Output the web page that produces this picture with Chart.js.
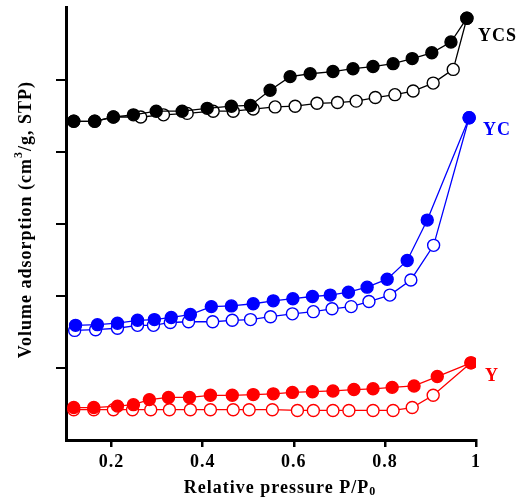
<!DOCTYPE html>
<html>
<head>
<meta charset="utf-8">
<script src="https://cdn.jsdelivr.net/npm/chart.js@4.4.1/dist/chart.umd.min.js"></script>
<style>
  html, body { margin: 0; padding: 0; background: #fff; }
  #wrap { width: 526px; height: 500px; }
</style>
</head>
<body>
<div id="wrap"><canvas id="isoChart" width="526" height="500"></canvas></div>
<script>
// relative pressure P/P0 and adsorbed volume (arbitrary offset units)
const ycsDesP = [0.117, 0.163, 0.204, 0.248, 0.298, 0.355, 0.410, 0.463, 0.505, 0.548, 0.592, 0.636, 0.686, 0.730, 0.774, 0.818, 0.860, 0.903, 0.945, 0.980];
const ycsDesV = [4.42, 4.42, 4.48, 4.51, 4.56, 4.56, 4.60, 4.63, 4.64, 4.85, 5.04, 5.08, 5.11, 5.15, 5.18, 5.22, 5.29, 5.37, 5.52, 5.85];
const ycsAdsP = [0.117, 0.163, 0.204, 0.264, 0.314, 0.366, 0.423, 0.467, 0.511, 0.559, 0.603, 0.651, 0.696, 0.737, 0.779, 0.822, 0.862, 0.906, 0.950, 0.980];
const ycsAdsV = [4.42, 4.42, 4.48, 4.48, 4.51, 4.53, 4.56, 4.56, 4.59, 4.62, 4.63, 4.67, 4.68, 4.70, 4.75, 4.79, 4.84, 4.95, 5.14, 5.85];

const ycDesP = [0.121, 0.169, 0.213, 0.257, 0.294, 0.331, 0.373, 0.419, 0.463, 0.511, 0.555, 0.598, 0.641, 0.680, 0.720, 0.761, 0.805, 0.849, 0.893, 0.985];
const ycDesV = [1.59, 1.60, 1.62, 1.66, 1.67, 1.70, 1.74, 1.85, 1.86, 1.89, 1.93, 1.96, 1.99, 2.01, 2.05, 2.12, 2.23, 2.49, 3.05, 4.47];
const ycAdsP = [0.119, 0.165, 0.213, 0.257, 0.292, 0.329, 0.369, 0.422, 0.465, 0.505, 0.549, 0.597, 0.643, 0.684, 0.726, 0.765, 0.811, 0.857, 0.907, 0.985];
const ycAdsV = [1.52, 1.53, 1.55, 1.59, 1.59, 1.63, 1.64, 1.64, 1.66, 1.67, 1.71, 1.75, 1.78, 1.82, 1.85, 1.92, 2.01, 2.22, 2.70, 4.47];

const yDesP = [0.117, 0.161, 0.213, 0.248, 0.283, 0.325, 0.371, 0.417, 0.465, 0.511, 0.555, 0.597, 0.641, 0.686, 0.732, 0.774, 0.816, 0.864, 0.915, 0.989];
const yDesV = [0.45, 0.45, 0.47, 0.49, 0.56, 0.59, 0.59, 0.62, 0.62, 0.63, 0.64, 0.66, 0.67, 0.68, 0.70, 0.71, 0.73, 0.75, 0.88, 1.07];
const yAdsP = [0.117, 0.161, 0.204, 0.246, 0.286, 0.327, 0.373, 0.417, 0.467, 0.502, 0.553, 0.608, 0.643, 0.686, 0.721, 0.774, 0.818, 0.860, 0.906, 0.989];
const yAdsV = [0.42, 0.42, 0.42, 0.42, 0.42, 0.42, 0.42, 0.42, 0.42, 0.42, 0.42, 0.41, 0.41, 0.41, 0.41, 0.41, 0.41, 0.45, 0.62, 1.07];

const xTickValues = [0.2, 0.4, 0.6, 0.8, 1.0];
const yTickValues = [1, 2, 3, 4, 5];

const sampleNames = ["YCS", "YC", "Y"];
const sampleColors = ["#000000", "#0000ff", "#ff0000"];
const labelValues = [5.60, 4.29, 0.88];

const SERIF = "'Liberation Serif', 'Times New Roman', serif";

function zip(xs, ys) {
  return xs.map((x, i) => ({ x: x, y: ys[i] }));
}

function series(name, xs, ys, color, filled) {
  return {
    label: name,
    data: zip(xs, ys),
    showLine: true,
    borderColor: color,
    borderWidth: 1.3,
    pointRadius: 6,
    pointHoverRadius: 6,
    pointBorderWidth: 1.4,
    pointBorderColor: color,
    pointBackgroundColor: filled ? color : "#ffffff",
    order: filled ? 0 : 1
  };
}

// draws a run of text pieces; sup / sub pieces are smaller and shifted
function drawRich(ctx, parts, size) {
  const small = Math.round(size * 0.65);
  let total = 0;
  parts.forEach((p) => {
    ctx.font = "bold " + (p.sup || p.sub ? small : size) + "px " + SERIF;
    p.w = ctx.measureText(p.t).width;
    total += p.w;
  });
  let x = -total / 2;
  parts.forEach((p) => {
    ctx.font = "bold " + (p.sup || p.sub ? small : size) + "px " + SERIF;
    let dy = 0;
    if (p.sup) dy = -size * 0.38;
    if (p.sub) dy = size * 0.22;
    ctx.fillText(p.t, x, dy);
    x += p.w;
  });
}

const textPlugin = {
  id: "textPlugin",
  beforeDraw(chart) {
    chart.ctx.letterSpacing = "1px";
  },
  afterDraw(chart) {
    const ctx = chart.ctx;
    const area = chart.chartArea;
    const xs = chart.scales.x;
    const ys = chart.scales.y;

    ctx.save();
    ctx.fillStyle = "#000";
    ctx.textBaseline = "middle";
    ctx.textAlign = "left";
    ctx.letterSpacing = "1px";

    // x axis title
    ctx.save();
    ctx.translate((area.left + area.right) / 2 + 9, 488);
    drawRich(ctx, [{ t: "Relative pressure P/P" }, { t: "0", sub: true }], 18);
    ctx.restore();

    // y axis title
    ctx.save();
    ctx.translate(26, (area.top + area.bottom) / 2 - 4);
    ctx.rotate(-Math.PI / 2);
    drawRich(ctx, [{ t: "Volume adsorption (cm" }, { t: "3", sup: true }, { t: "/g, STP)" }], 18);
    ctx.restore();

    // sample labels
    const offsets = [2, 7, 9];
    sampleNames.forEach((name, i) => {
      ctx.font = "bold 18px " + SERIF;
      ctx.fillStyle = sampleColors[i];
      ctx.fillText(name, xs.getPixelForValue(1.0) + offsets[i], ys.getPixelForValue(labelValues[i]));
    });
    ctx.restore();
  }
};

new Chart(document.getElementById("isoChart"), {
  type: "scatter",
  data: {
    datasets: [
      series("YCS adsorption", ycsAdsP, ycsAdsV, sampleColors[0], false),
      series("YCS desorption", ycsDesP, ycsDesV, sampleColors[0], true),
      series("YC adsorption", ycAdsP, ycAdsV, sampleColors[1], false),
      series("YC desorption", ycDesP, ycDesV, sampleColors[1], true),
      series("Y adsorption", yAdsP, yAdsV, sampleColors[2], false),
      series("Y desorption", yDesP, yDesV, sampleColors[2], true)
    ]
  },
  options: {
    responsive: false,
    animation: false,
    layout: { padding: { left: 0, top: 2, right: 50, bottom: 0 } },
    plugins: {
      legend: { display: false },
      tooltip: { enabled: false }
    },
    scales: {
      x: {
        type: "linear",
        min: 0.1,
        max: 1.0,
        afterBuildTicks: (scale) => {
          scale.ticks = xTickValues.map((v) => ({ value: v }));
        },
        afterFit: (scale) => {
          scale.height = 60;
        },
        ticks: {
          color: "#000",
          padding: 5,
          font: { family: SERIF, size: 18, weight: "bold" },
          callback: (v) => (v === 1 ? "1" : v.toFixed(1))
        },
        grid: {
          drawOnChartArea: false,
          drawTicks: true,
          tickLength: 7,
          color: "#000",
          lineWidth: 2.5
        },
        border: { display: true, color: "#000", width: 3 }
      },
      y: {
        type: "linear",
        min: 0,
        max: 6,
        afterBuildTicks: (scale) => {
          scale.ticks = yTickValues.map((v) => ({ value: v }));
        },
        afterFit: (scale) => {
          scale.width = 66;
        },
        ticks: { display: false },
        grid: {
          drawOnChartArea: false,
          drawTicks: true,
          tickLength: 10,
          color: "#000",
          lineWidth: 2
        },
        border: { display: true, color: "#000", width: 3 }
      }
    }
  },
  plugins: [textPlugin]
});
</script>
</body>
</html>
